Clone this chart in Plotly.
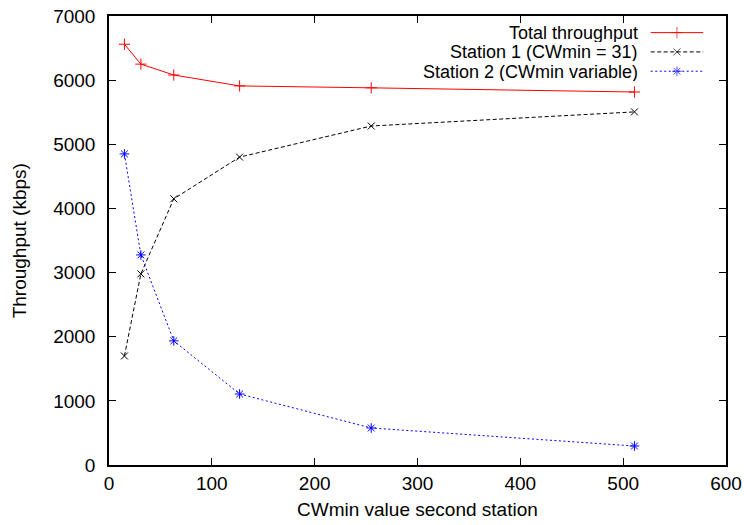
import plotly.graph_objects as go

cwmin = [15, 31, 63, 127, 255, 511]
total = [6560, 6250, 6080, 5910, 5880, 5815]
station1 = [1700, 2980, 4150, 4800, 5285, 5505]
station2 = [4850, 3275, 1935, 1107, 577, 296]
names = ["Total throughput", "Station 1 (CWmin = 31)", "Station 2 (CWmin variable)"]
colors = ["#ff0000", "#000000", "#0000ff"]
dashes = ["solid", "4px,2.5px", "2px,2.5px"]
symbols = ["cross-thin", "x-thin", "asterisk"]
sizes = [8, 7, 8]

FONT = "Liberation Sans, Arial, Helvetica, sans-serif"
FS = 19

fig = go.Figure()
for ys, n, c, d, s, sz in zip([total, station1, station2], names, colors, dashes, symbols, sizes):
    fig.add_trace(go.Scatter(
        x=cwmin, y=ys, mode="lines+markers", name=n,
        line=dict(color=c, width=1, dash=d),
        marker=dict(symbol=s, size=sz, color=c, line=dict(color=c, width=1)),
        showlegend=False, xaxis="x", yaxis="y"))

# legend drawn gnuplot-style (text on left, sample on right) on an overlay axis
leg_y = [0.963, 0.920, 0.877]
for ly, n, c, d, s, sz in zip(leg_y, names, colors, dashes, symbols, sizes):
    fig.add_trace(go.Scatter(
        x=[0.878, 0.9205, 0.963], y=[ly, ly, ly], mode="lines+markers",
        line=dict(color=c, width=1, dash=d),
        marker=dict(symbol=s, size=[0, sz, 0], color=c, line=dict(color=c, width=1)),
        showlegend=False, hoverinfo="skip", xaxis="x2", yaxis="y2"))
    fig.add_annotation(x=0.859, y=ly, xref="paper", yref="paper", text=n,
                       showarrow=False, xanchor="right", yanchor="middle",
                       height=19, valign="middle", borderpad=0,
                       font=dict(family=FONT, size=18, color="black"))

fig.add_annotation(x=0.5, y=-0.10, xref="paper", yref="paper",
                   text="CWmin value second station", showarrow=False,
                   xanchor="center", yanchor="middle",
                   font=dict(family=FONT, size=FS, color="black"))
fig.add_annotation(x=-0.1445, y=0.5, xref="paper", yref="paper",
                   text="Throughput (kbps)", showarrow=False, textangle=-90,
                   xanchor="center", yanchor="middle",
                   font=dict(family=FONT, size=FS, color="black"))

axis_common = dict(showgrid=False, zeroline=False, showline=True, linecolor="black",
                   linewidth=1.5, mirror="allticks", ticks="inside", ticklen=7,
                   tickwidth=1, tickcolor="black", automargin=False,
                   tickfont=dict(family=FONT, size=FS, color="black"))

fig.update_layout(
    width=744, height=525,
    margin=dict(l=109, r=18, t=16, b=60),
    paper_bgcolor="white", plot_bgcolor="white",
    xaxis=dict(range=[0, 600], dtick=100, ticklabelstandoff=0, **axis_common),
    yaxis=dict(range=[0, 7000], dtick=1000, ticklabelstandoff=8, **axis_common),
    xaxis2=dict(range=[0, 1], overlaying="x", visible=False, fixedrange=True),
    yaxis2=dict(range=[0, 1], overlaying="y", visible=False, fixedrange=True),
    showlegend=False,
)

fig.write_html("out.html")
